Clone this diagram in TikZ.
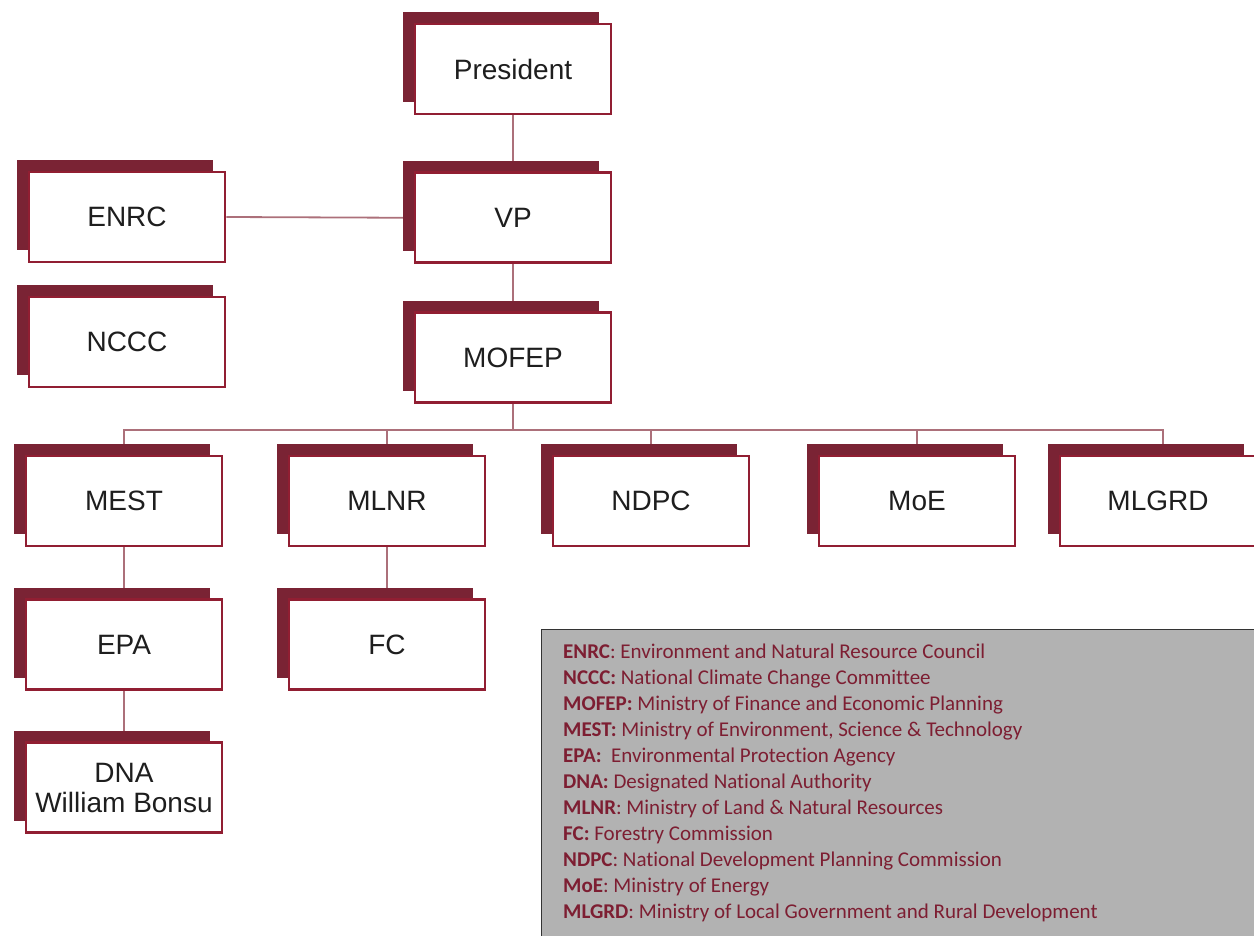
\documentclass[tikz,border=0pt]{standalone}
\usepackage{fontspec}
\newfontfamily\boxfont{Liberation Sans}
\newfontfamily\keyfont[Ligatures=NoCommon]{Carlito}
\usetikzlibrary{positioning,backgrounds,shadows}
\definecolor{orgMaroon}{RGB}{122,35,52}
\definecolor{orgRed}{RGB}{145,30,50}
\definecolor{orgLine}{RGB}{172,112,122}
\definecolor{orgInk}{RGB}{30,30,30}
\definecolor{orgGray}{RGB}{178,178,178}
\definecolor{orgText}{RGB}{125,30,50}
\tikzset{
    office/.style={rectangle, draw=orgRed, line width=2.8pt, fill=white,
                   minimum width=196pt, minimum height=90pt, inner sep=2pt,
                   align=center, text=orgInk,
                   font=\boxfont\fontsize{28}{30}\selectfont,
                   drop shadow={shadow xshift=-12pt, shadow yshift=12pt,
                                opacity=1, fill=orgMaroon}},
    link/.style={draw=orgLine, line width=1.8pt},
    keypanel/.style={draw=black!80, line width=1pt, fill=orgGray},
    keyline/.style={anchor=base west, inner sep=0pt, text=orgText,
                    font=\keyfont\fontsize{21}{23}\selectfont}
}

\begin{document}
\begin{tikzpicture}[x=1pt, y=-1pt]
  \useasboundingbox (0,0) rectangle (1254,936);

  % Top of the chain
  \node[office] (pres) at (513,69) {President};
  \node[office, below=56pt of pres] (vp) {VP};
  \node[office, below=47pt of vp] (mofep) {MOFEP};

  % Councils on the left
  \node[office] (enrc) at (127,217) {ENRC};
  \node[office] (nccc) at (127,342) {NCCC};

  % Ministries
  \node[office] (mest) at (124,501) {MEST};
  \node[office] (mlnr) at (387,501) {MLNR};
  \node[office] (ndpc) at (651,501) {NDPC};
  \node[office] (moe) at (917,501) {MoE};
  \node[office] (mlgrd) at (1158,501) {MLGRD};

  % Agencies
  \node[office, below=51pt of mest] (epa) {EPA};
  \node[office, below=51pt of mlnr] (fc) {FC};
  \node[office, below=50pt of epa] (dna) {DNA\\William Bonsu};

  % Links
  \begin{scope}[on background layer]
    \draw[link] (pres) -- (vp);
    \draw[link] (vp) -- (mofep);
    \draw[link] (enrc.east) -- (vp.west);
    \draw[link] (mofep.south) -- ++(0,26) coordinate (bus);
    \draw[link] (bus) -| (mest.north);
    \draw[link] (bus) -| (mlnr.north);
    \draw[link] (bus) -| (ndpc.north);
    \draw[link] (bus) -| (moe.north);
    \draw[link] (bus) -| ([xshift=5pt]mlgrd.north);
    \draw[link] (mest) -- (epa);
    \draw[link] (epa) -- (dna);
    \draw[link] (mlnr) -- (fc);
  \end{scope}

  % Key
  \draw[keypanel] (541,629) rectangle (1262,944);
  \foreach \txt [count=\i] in {
      {\textbf{ENRC}: Environment and Natural Resource Council},
      {\textbf{NCCC:} National Climate Change Committee},
      {\textbf{MOFEP:} Ministry of Finance and Economic Planning},
      {\textbf{MEST:} Ministry of Environment, Science \& Technology},
      {\textbf{EPA:}\ \ Environmental Protection Agency},
      {\textbf{DNA:} Designated National Authority},
      {\textbf{MLNR}: Ministry of Land \& Natural Resources},
      {\textbf{FC:} Forestry Commission},
      {\textbf{NDPC}: National Development Planning Commission},
      {\textbf{MoE}: Ministry of Energy},
      {\textbf{MLGRD}: Ministry of Local Government and Rural Development}}
    \node[keyline] (key\i) at (563,{658+26*(\i-1)}) {\txt};
\end{tikzpicture}
\end{document}
